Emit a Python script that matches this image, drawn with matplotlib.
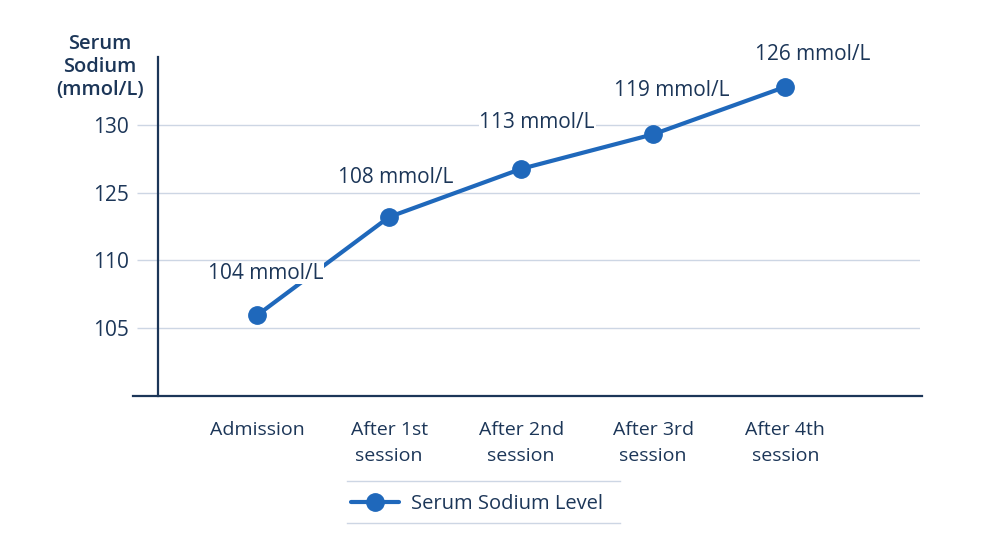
#!/usr/bin/env python3
"""Serum sodium level across dialysis sessions."""

import matplotlib

matplotlib.use('Agg')
from matplotlib import pyplot as plt  # noqa: E402
from matplotlib.lines import Line2D  # noqa: E402


# categories and values
stages = ['Admission', 'After 1st\nsession', 'After 2nd\nsession', 'After 3rd\nsession', 'After 4th\nsession']
sodium_labels = [104, 108, 113, 119, 126]
# vertical level of each point, in gridline steps above the axis floor
plot_levels = [1.19, 2.64, 3.35, 3.86, 4.56]
tick_levels = [1, 2, 3, 4]
tick_labels = ['105', '110', '125', '130']

LINE_BLUE = '#1f68bb'
NAVY = '#1c3658'
GRID = '#cdd6e4'

# label offsets from their point, in pixels (dx, dy up)
label_offsets = [(9, 42), (7, 40), (16, 46), (19, 44), (27, 32)]

plt.rcParams.update({
    'font.family': ['Open Sans', 'DejaVu Sans'],
    'text.color': NAVY,
    'xtick.color': NAVY,
    'ytick.color': NAVY,
})

fig = plt.figure(figsize=(9.86, 5.37), dpi=100)
ax = fig.add_axes([158 / 986, 141 / 537, 762 / 986, 339 / 537])

x = list(range(len(stages)))
ax.plot(x, plot_levels, color=LINE_BLUE, linewidth=3.0, marker='o', markersize=12.5,
        solid_capstyle='round', zorder=3, label='Serum Sodium Level')

for xi, level, value, (dx, dy) in zip(x, plot_levels, sodium_labels, label_offsets):
    ax.annotate(
        f'{value} mmol/L',
        xy=(xi, level),
        xytext=(dx * 0.72, dy * 0.72),
        textcoords='offset points',
        ha='center',
        va='center',
        fontsize=15,
        color=NAVY,
        bbox={'facecolor': 'white', 'edgecolor': 'none', 'pad': 0.5},
        zorder=4,
    )

ax.set_xlim(-0.75, 5.02)
ax.set_ylim(0, 5)
ax.set_xticks(x)
ax.set_xticklabels(stages, fontsize=14, linespacing=1.55)
ax.set_yticks(tick_levels)
ax.set_yticklabels(tick_labels, fontsize=15)
ax.tick_params(axis='x', length=0, pad=18)
ax.tick_params(axis='y', length=15, width=1.0, color=GRID, pad=6)
ax.grid(axis='y', color=GRID, linewidth=1.0)
ax.set_axisbelow(True)

for side in ('top', 'right', 'bottom'):
    ax.spines[side].set_visible(False)
ax.spines['left'].set_color(NAVY)
ax.spines['left'].set_linewidth(1.6)
# baseline runs a little past both ends of the plot area
ax.add_line(Line2D([-25 / 762, 1.003], [0, 0], transform=ax.transAxes, color=NAVY,
                   linewidth=1.6, clip_on=False))

fig.text(100 / 986, 1 - 67 / 537, 'Serum\nSodium\n(mmol/L)', ha='center', va='center',
         fontsize=14.5, fontweight='semibold', linespacing=1.2, color=NAVY)

leg = fig.legend(loc='center', bbox_to_anchor=(477 / 986, 1 - 504 / 537), frameon=False,
                 fontsize=14.5, handlelength=2.4, handletextpad=0.6)
for text in leg.get_texts():
    text.set_color(NAVY)
for y_px in (481, 523):
    fig.add_artist(Line2D([347 / 986, 620 / 986], [1 - y_px / 537] * 2, color=GRID, linewidth=1.0))

fig.savefig('out.png', dpi=100, facecolor='white')
